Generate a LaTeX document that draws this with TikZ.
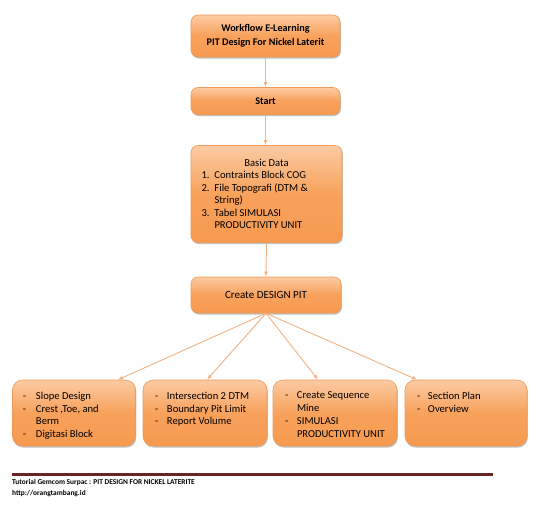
\documentclass[tikz,border=0pt]{standalone}
\usepackage{fontspec}
\setmainfont{Carlito}
\usetikzlibrary{arrows.meta,shadows,calc}
\definecolor{otop}{HTML}{FBCBA3}
\definecolor{omid}{HTML}{F8A15B}
\definecolor{obot}{HTML}{F79A50}
\definecolor{oedge}{HTML}{EE9A58}
\definecolor{arr}{HTML}{F4B183}
\definecolor{footline}{HTML}{6B2426}
\tikzset{
  obox/.style={rounded corners=7pt, draw=oedge, line width=0.6pt,
    top color=otop, bottom color=obot, middle color=omid,
    drop shadow={shadow xshift=0.8pt, shadow yshift=-1.6pt, opacity=0.35, fill=black!70},
    inner sep=0pt, font=\fontsize{10.6}{12.5}\selectfont},
  lbox/.style={obox, rounded corners=10pt, minimum height=66pt, font=\fontsize{10.6}{12.8}\selectfont},
  conn/.style={draw=arr, line width=0.9pt, -{Latex[length=5pt,width=4pt]}},
  ftext/.style={anchor=base west, inner sep=0pt, font=\fontsize{7.4}{8}\selectfont\bfseries}
}
\begin{document}
\begin{tikzpicture}[x=1pt,y=-1pt]
\useasboundingbox (0,0) rectangle (549,507);
% top chain
\node[obox, minimum width=149pt, minimum height=42pt, align=center, font=\fontsize{10.2}{13.5}\selectfont\bfseries]
  (wf) at (265.5,36) {Workflow E-Learning\\PIT Design For Nickel Laterit};
\node[obox, minimum width=149pt, minimum height=27pt, font=\fontsize{10.2}{12}\selectfont\bfseries]
  (start) at (265.5,101) {Start};
\node[obox, minimum width=151pt, minimum height=97pt] (basic) at (266.5,194)
  {\parbox{130pt}{\fontsize{10.6}{12.5}\selectfont{\centering Basic Data\par}\raggedright
   \makebox[13pt][l]{1.}Contraints Block COG\\
   \makebox[13pt][l]{2.}File Topografi (DTM \&\\
   \hspace*{13pt}String)\\
   \makebox[13pt][l]{3.}Tabel SIMULASI\\
   \hspace*{13pt}PRODUCTIVITY UNIT}};
\node[obox, minimum width=150pt, minimum height=36pt, font=\fontsize{11}{13}\selectfont] (design) at (266,295) {Create DESIGN PIT};
% bottom row
\node[lbox, minimum width=123pt] (b1) at (74,413)
  {\parbox[c][66pt][t]{110pt}{\raggedright\leftskip=4pt\vspace*{12pt}
   \makebox[13pt][l]{-}Slope Design\\
   \makebox[13pt][l]{-}Crest ,Toe, and\\
   \hspace*{13pt}Berm\\
   \makebox[13pt][l]{-}Digitasi Block}};
\node[lbox, minimum width=124pt] (b2) at (205,413)
  {\parbox[c][66pt][t]{110pt}{\raggedright\leftskip=5pt\vspace*{12pt}
   \makebox[12pt][l]{-}Intersection 2 DTM\\
   \makebox[12pt][l]{-}Boundary Pit Limit\\
   \makebox[12pt][l]{-}Report Volume}};
\node[lbox, minimum width=124pt] (b3) at (335,413)
  {\parbox[c][66pt][t]{110pt}{\raggedright\leftskip=5pt\vspace*{12pt}
   \makebox[12pt][l]{-}Create Sequence\\
   \hspace*{12pt}Mine\\
   \makebox[12pt][l]{-}SIMULASI\\
   \hspace*{12pt}PRODUCTIVITY UNIT}};
\node[lbox, minimum width=122pt] (b4) at (466,413)
  {\parbox[c][66pt][t]{110pt}{\raggedright\leftskip=6pt\vspace*{12pt}
   \makebox[11pt][l]{-}Section Plan\\
   \makebox[11pt][l]{-}Overview}};
% connectors
\draw[conn] (wf.south) -- (start.north);
\draw[conn] (start.south) -- (basic.north -| start.south);
\draw[conn] (basic.south) -- (design.north);
\draw[conn] (design.south) -- ($(b1.north)+(44,0)$);
\draw[conn] (design.south) -- ($(b2.north)+(2,0)$);
\draw[conn] (design.south) -- ($(b3.north)+(-17,0)$);
\draw[conn] (design.south) -- ($(b4.north)+(-49,0)$);
% footer
\coordinate (fl) at (12,474);
\coordinate (fr) at (493,474);
\draw[footline, line width=3pt] (fl) -- (fr);
\node[ftext] (f1) at (12,484) {Tutorial Gemcom Surpac : PIT DESIGN FOR NICKEL LATERITE};
\node[ftext] (f2) at (12,495) {http://orangtambang.id};
\end{tikzpicture}
\end{document}
